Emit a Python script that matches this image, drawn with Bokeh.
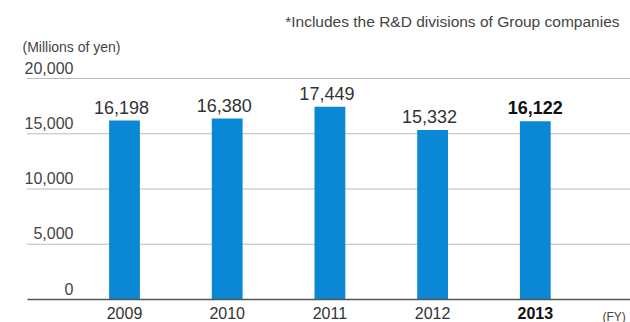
from bokeh.plotting import figure
from bokeh.models import ColumnDataSource, Label, Range1d
from bokeh.core.properties import value
from bokeh.embed import file_html
from bokeh.resources import INLINE

years = [2009, 2010, 2011, 2012, 2013]
year_labels = ["2009", "2010", "2011", "2012", "2013"]
expenses = [16198, 16380, 17449, 15332, 16122]
value_labels = ["16,198", "16,380", "17,449", "15,332", "16,122"]
y_ticks = [0, 5000, 10000, 15000, 20000]
y_tick_labels = ["0", "5,000", "10,000", "15,000", "20,000"]

FONT = "Liberation Sans"
W, H = 630, 322

# pixel mapping helpers (canvas px -> data)
PX_PER_YEAR = 102.7
X0_PX = 124.0          # canvas x of 2009 centre
PX_PER_VAL = 221.0 / 20000
Y0_PX = 299.0          # canvas y (from top) of value 0

def px_to_x(px):
    return 2009 + (px - X0_PX) / PX_PER_YEAR

def py_to_y(py):
    return (Y0_PX - py) / PX_PER_VAL

p = figure(width=W, height=H, output_backend="svg", toolbar_location=None,
           x_axis_type=None, y_axis_type=None, min_border=0,
           outline_line_color=None,
           x_range=Range1d(px_to_x(0), px_to_x(W)),
           y_range=Range1d(py_to_y(H), py_to_y(0)))
p.xgrid.visible = False
p.ygrid.visible = False
p.background_fill_color = "white"
p.border_fill_color = "white"

x_left = px_to_x(27)
x_right = px_to_x(W)

# dotted grid lines
grid_vals = [v for v in y_ticks if v > 0]
p.segment(x0=[x_left] * len(grid_vals), x1=[x_right] * len(grid_vals),
          y0=grid_vals, y1=grid_vals, line_color="#777777",
          line_width=1, line_dash="1 1")

# bars
src = dict(x=years, top=expenses)
p.vbar(x="x", top="top", bottom=0, width=0.30, source=ColumnDataSource(src),
       fill_color="#0A88D6", line_color=None)

# baseline
p.segment(x0=[x_left], x1=[x_right], y0=[0], y1=[0], line_color="#555555",
          line_width=1.5)

# y tick labels (inside, above grid lines)
p.text(x=[px_to_x(73)] * len(y_ticks), y=y_ticks, text=y_tick_labels,
       text_font=value(FONT), text_font_size="16px", text_color="#444444",
       text_align="right", text_baseline="top", y_offset=-17)

# value labels
normal_idx = [i for i in range(len(years)) if years[i] != 2013]
bold_idx = [i for i in range(len(years)) if years[i] == 2013]
p.text(x=[years[i] for i in normal_idx], y=[expenses[i] for i in normal_idx],
       text=[value_labels[i] for i in normal_idx],
       text_font=value(FONT), text_font_size="18px", text_color="#333333",
       text_align="center", text_baseline="top", y_offset=-20, x_offset=-3)
p.text(x=[years[i] for i in bold_idx], y=[expenses[i] for i in bold_idx],
       text=[value_labels[i] for i in bold_idx],
       text_font=value(FONT), text_font_size="18px", text_color="#111111",
       text_font_style="bold",
       text_align="center", text_baseline="top", y_offset=-20)

# x labels
p.text(x=[years[i] for i in normal_idx], y=[0] * len(normal_idx),
       text=[year_labels[i] for i in normal_idx],
       text_font=value(FONT), text_font_size="16px", text_color="#333333",
       text_align="center", text_baseline="top", y_offset=7)
p.text(x=[years[i] for i in bold_idx], y=[0] * len(bold_idx),
       text=[year_labels[i] for i in bold_idx],
       text_font=value(FONT), text_font_size="16px", text_color="#111111",
       text_font_style="bold",
       text_align="center", text_baseline="top", y_offset=7)

# (FY)
p.add_layout(Label(x=602, y=H - 309, x_units="screen", y_units="screen",
                   text="(FY)", text_font=FONT, text_font_size="12px",
                   text_color="#444444", text_align="left",
                   text_baseline="top"))

# unit label
p.add_layout(Label(x=22, y=H - 38, x_units="screen", y_units="screen",
                   text="(Millions of yen)", text_font=FONT,
                   text_font_size="14px", text_color="#444444",
                   text_align="left", text_baseline="top"))

# footnote
p.add_layout(Label(x=619, y=H - 12, x_units="screen", y_units="screen",
                   text="*Includes the R&D divisions of Group companies",
                   text_font=FONT, text_font_size="15.5px", text_color="#444444",
                   text_align="right", text_baseline="top"))

open("out.html", "w").write(file_html(p, INLINE))
